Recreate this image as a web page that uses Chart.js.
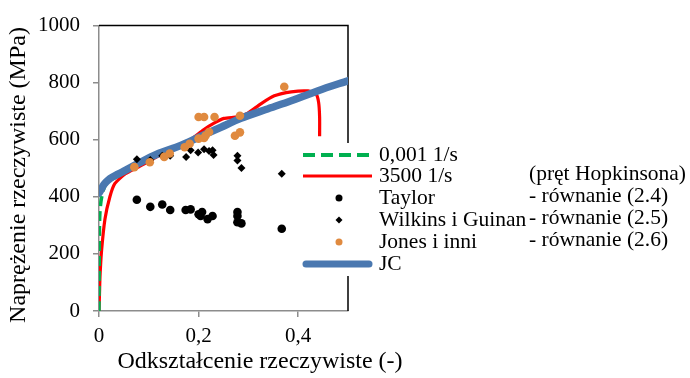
<!DOCTYPE html>
<html lang="pl">
<head>
<meta charset="utf-8">
<title>Naprężenie – odkształcenie</title>
<script src="https://cdn.jsdelivr.net/npm/chart.js@4.4.1/dist/chart.umd.min.js"></script>
<style>
    html, body { margin: 0; padding: 0; background: #fff; }
    #chart { display: block; }
</style>
</head>
<body>
<canvas id="chart" width="690" height="378"></canvas>
<script>
"use strict";

// ---------- Data ----------

// 0,001 1/s – quasi-static test
const quasiStrain = [0, 0.0003, 0.0006, 0.001, 0.002, 0.004, 0.008, 0.014, 0.02, 0.03, 0.045];
const quasiStress = [0, 100, 200, 300, 350, 385, 420, 445, 455, 465, 478];

// 3500 1/s – Hopkinson bar
const hopkStrain = [0, 0.001, 0.002, 0.005, 0.012, 0.022, 0.032, 0.053, 0.08, 0.116, 0.15, 0.184, 0.21, 0.231, 0.251, 0.278, 0.298, 0.325, 0.352, 0.386, 0.42, 0.436, 0.441, 0.443, 0.443];
const hopkStress = [0, 60, 120, 208, 322, 401, 447, 481, 505, 540, 570, 601, 635, 658, 675, 680, 692, 726, 754, 768, 771, 760, 731, 680, 612];

// Taylor – równanie (2.4)
const taylorStrain = [0.076, 0.103, 0.127, 0.143, 0.174, 0.184, 0.2, 0.207, 0.204, 0.218, 0.228, 0.278, 0.278, 0.278, 0.286, 0.367];
const taylorStress = [390, 365, 373, 354, 354, 356, 339, 347, 333, 322, 333, 347, 333, 311, 307, 288];

// Wilkins i Guinan – równanie (2.5)
const wilkinsStrain = [0.076, 0.103, 0.127, 0.143, 0.175, 0.184, 0.199, 0.211, 0.221, 0.228, 0.23, 0.278, 0.278, 0.286, 0.367];
const wilkinsStress = [532, 529, 544, 544, 540, 563, 555, 567, 561, 563, 547, 544, 527, 501, 481];

// Jones i inni – równanie (2.6)
const jonesStrain = [0.071, 0.102, 0.131, 0.142, 0.172, 0.182, 0.2, 0.211, 0.214, 0.221, 0.2, 0.211, 0.232, 0.283, 0.273, 0.283, 0.372];
const jonesStress = [504, 521, 540, 552, 574, 586, 604, 606, 615, 627, 680, 680, 680, 684, 614, 626, 786];

// JC model
const jcStrain = [0, 0.005, 0.009, 0.015, 0.022, 0.035, 0.049, 0.08, 0.116, 0.164, 0.204, 0.245, 0.285, 0.335, 0.386, 0.44, 0.5];
const jcStress = [413, 428, 441, 453, 464, 477, 489, 518, 549, 580, 612, 644, 675, 706, 737, 772, 807];

const xTicks = [0, 0.2, 0.4];
const yTicks = [0, 200, 400, 600, 800, 1000];

const legendLabels = ["0,001 1/s", "3500 1/s", "Taylor", "Wilkins i Guinan", "Jones i inni", "JC"];
const legendNotes = ["(pręt Hopkinsona)", "- równanie (2.4)", "- równanie (2.5)", "- równanie (2.6)"];

// ---------- Styles ----------

const FONT = "'Liberation Serif', 'Times New Roman', serif";
const FONT_SIZE = 21;
const LEGEND_SIZE = 21.5;
const TITLE_SIZE = 24;
const AXIS_GRAY = "#8c8c8c";
const GREEN = "#00b050";
const RED = "#ff0000";
const ORANGE = "#e08a3f";
const BLUE = "#4a78b0";

function toPoints(xs, ys) {
    return xs.map((x, i) => ({ x, y: ys[i] }));
}

function commaNum(v) {
    return String(v).replace(".", ",");
}

// ---------- Plugin: frame, axis titles, legend ----------

const decorations = {
    id: "decorations",
    beforeDatasetsDraw(chart) {
        const { ctx, chartArea: a } = chart;
        ctx.save();
        ctx.strokeStyle = "#000";
        ctx.lineWidth = 1.5;
        ctx.beginPath();
        ctx.moveTo(a.left, a.top);
        ctx.lineTo(a.right, a.top);
        ctx.lineTo(a.right, a.bottom);
        ctx.stroke();
        ctx.restore();
    },
    afterDraw(chart) {
        const { ctx } = chart;
        ctx.save();
        ctx.fillStyle = "#000";
        ctx.textBaseline = "middle";

        // axis titles
        ctx.font = `${TITLE_SIZE}px ${FONT}`;
        ctx.textAlign = "center";
        ctx.fillText("Odkształcenie rzeczywiste (-)", 260, 362);
        ctx.save();
        ctx.translate(19, 175);
        ctx.rotate(-Math.PI / 2);
        ctx.fillText("Naprężenie rzeczywiste (MPa)", 0, 0);
        ctx.restore();

        // legend box
        ctx.font = `${LEGEND_SIZE}px ${FONT}`;
        ctx.fillStyle = "#fff";
        ctx.fillRect(298, 143, 392, 133);

        const rows = [155, 176, 198, 220, 242, 264];
        const x0 = 303, x1 = 372, xm = 339;

        ctx.lineCap = "butt";
        ctx.strokeStyle = GREEN;
        ctx.lineWidth = 4;
        ctx.setLineDash([12, 6]);
        ctx.beginPath(); ctx.moveTo(x0, rows[0]); ctx.lineTo(x1, rows[0]); ctx.stroke();
        ctx.setLineDash([]);

        ctx.strokeStyle = RED;
        ctx.lineWidth = 3;
        ctx.beginPath(); ctx.moveTo(x0, rows[1]); ctx.lineTo(x1, rows[1]); ctx.stroke();

        ctx.fillStyle = "#000";
        ctx.beginPath(); ctx.arc(xm, rows[2], 3.5, 0, Math.PI * 2); ctx.fill();
        ctx.beginPath();
        ctx.moveTo(xm, rows[3] - 3.5); ctx.lineTo(xm + 3.5, rows[3]);
        ctx.lineTo(xm, rows[3] + 3.5); ctx.lineTo(xm - 3.5, rows[3]);
        ctx.closePath(); ctx.fill();
        ctx.fillStyle = ORANGE;
        ctx.beginPath(); ctx.arc(xm, rows[4], 3.5, 0, Math.PI * 2); ctx.fill();

        ctx.strokeStyle = BLUE;
        ctx.lineWidth = 7;
        ctx.lineCap = "round";
        ctx.beginPath(); ctx.moveTo(x0 + 3, rows[5]); ctx.lineTo(x1 - 3, rows[5]); ctx.stroke();

        ctx.fillStyle = "#000";
        ctx.textAlign = "left";
        legendLabels.forEach((t, i) => ctx.fillText(t, 379, rows[i]));
        const noteRows = [174, 196, 218, 240];
        legendNotes.forEach((t, i) => ctx.fillText(t, 529, noteRows[i]));
        ctx.restore();
    },
};

// ---------- Chart ----------

const tickFont = { family: FONT, size: FONT_SIZE };

new Chart(document.getElementById("chart"), {
    type: "scatter",
    data: {
        datasets: [
            {
                label: legendLabels[0],
                data: toPoints(quasiStrain, quasiStress),
                showLine: true,
                borderColor: GREEN,
                borderWidth: 3.5,
                borderDash: [10, 5],
                pointRadius: 0,
                tension: 0.2,
                order: 5,
            },
            {
                label: legendLabels[1],
                data: toPoints(hopkStrain, hopkStress),
                showLine: true,
                borderColor: RED,
                borderWidth: 3.2,
                pointRadius: 0,
                tension: 0.2,
                order: 6,
            },
            {
                label: legendLabels[5],
                data: toPoints(jcStrain, jcStress),
                showLine: true,
                borderColor: BLUE,
                borderWidth: 7.5,
                borderCapStyle: "round",
                pointRadius: 0,
                tension: 0.3,
                order: 4,
            },
            {
                label: legendLabels[2],
                data: toPoints(taylorStrain, taylorStress),
                backgroundColor: "#000",
                borderWidth: 0,
                pointRadius: 4.3,
                order: 3,
            },
            {
                label: legendLabels[3],
                data: toPoints(wilkinsStrain, wilkinsStress),
                backgroundColor: "#000",
                borderWidth: 0,
                pointStyle: "rectRot",
                pointRadius: 4,
                order: 2,
            },
            {
                label: legendLabels[4],
                data: toPoints(jonesStrain, jonesStress),
                backgroundColor: ORANGE,
                borderWidth: 0,
                pointRadius: 4.3,
                order: 1,
            },
        ],
    },
    options: {
        responsive: false,
        animation: false,
        devicePixelRatio: 1,
        layout: { padding: { top: 18, right: 342, left: 0, bottom: 0 } },
        plugins: {
            legend: { display: false },
            tooltip: { enabled: false },
        },
        scales: {
            x: {
                type: "linear",
                min: 0,
                max: 0.5,
                afterBuildTicks: (s) => { s.ticks = xTicks.map((v) => ({ value: v })); },
                afterFit: (s) => { s.height = 67; },
                ticks: {
                    font: tickFont,
                    color: "#000",
                    padding: 7,
                    maxRotation: 0,
                    callback: (v) => commaNum(v),
                },
                grid: { drawOnChartArea: false, tickLength: 6, color: AXIS_GRAY, lineWidth: 1.5 },
                border: { color: AXIS_GRAY, width: 1.5 },
            },
            y: {
                type: "linear",
                min: 0,
                max: 1000,
                afterBuildTicks: (s) => { s.ticks = yTicks.map((v) => ({ value: v })); },
                afterFit: (s) => { s.width = 99; },
                ticks: {
                    font: tickFont,
                    color: "#000",
                    padding: 13,
                    callback: (v) => String(v),
                },
                grid: { drawOnChartArea: false, tickLength: 6, color: AXIS_GRAY, lineWidth: 1.5 },
                border: { color: AXIS_GRAY, width: 1.5 },
            },
        },
    },
    plugins: [decorations],
});
</script>
</body>
</html>
